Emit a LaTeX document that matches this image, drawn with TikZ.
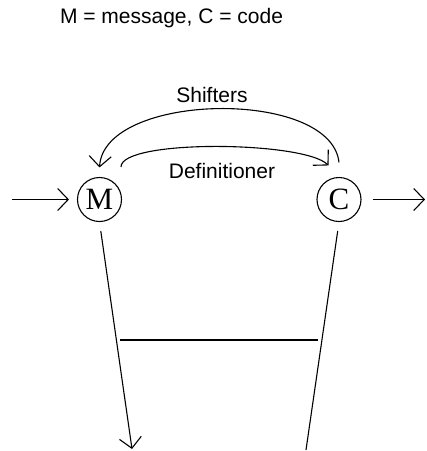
\documentclass[tikz,border=0pt]{standalone}
\usepackage{fontspec}
\setmainfont{Liberation Sans}
\newfontfamily\serifletter{Liberation Serif}
\usetikzlibrary{arrows.meta}
\begin{document}
\begin{tikzpicture}[x=1pt,y=-1pt,line width=1.1pt,
  barb/.style={-{Straight Barb[length=10.5pt,width=22pt,line width=1.1pt]}},
  state/.style={circle,draw,minimum size=44pt,inner sep=0pt,font=\serifletter\fontsize{31}{31}\selectfont},
  lbl/.style={font=\fontsize{21}{24}\selectfont,inner sep=0pt}]
\useasboundingbox (0,0) rectangle (427,451);
\node[lbl] (legend) at (171.5,18.5) {M = message, C = code};
\node[state] (M) at (99.5,199.5) {M};
\node[state] (C) at (339,199.5) {C};
\coordinate (in) at (12,199.5);
\coordinate (out) at (425,199.5);
\coordinate (mdown) at (132,449);
\coordinate (cdown) at (306,450);
\coordinate (hl) at (120,340);
\coordinate (hr) at (318,340);
\draw[barb,shorten >=8pt] (in) -- (M);
\draw[barb,shorten <=11pt] (C) -- (out);
\draw[barb] ([yshift=14.5pt]C.north) .. controls (331,88) and (104,92) .. ([yshift=9.5pt]M.north);
\draw[barb] ([shift={(21.5pt,10pt)}]M.north) .. controls (121,139) and (304,141) .. ([shift={(-10.5pt,11.5pt)}]C.north);
\node[lbl] (shifters) at (212,95) {Shifters};
\node[lbl] (defs) at (222,171) {Definitioner};
\draw[barb,shorten <=9pt] (M.south) -- (mdown);
\draw[shorten <=9pt] (C.south) -- (cdown);
\draw (hl) -- (hr);
\end{tikzpicture}
\end{document}
